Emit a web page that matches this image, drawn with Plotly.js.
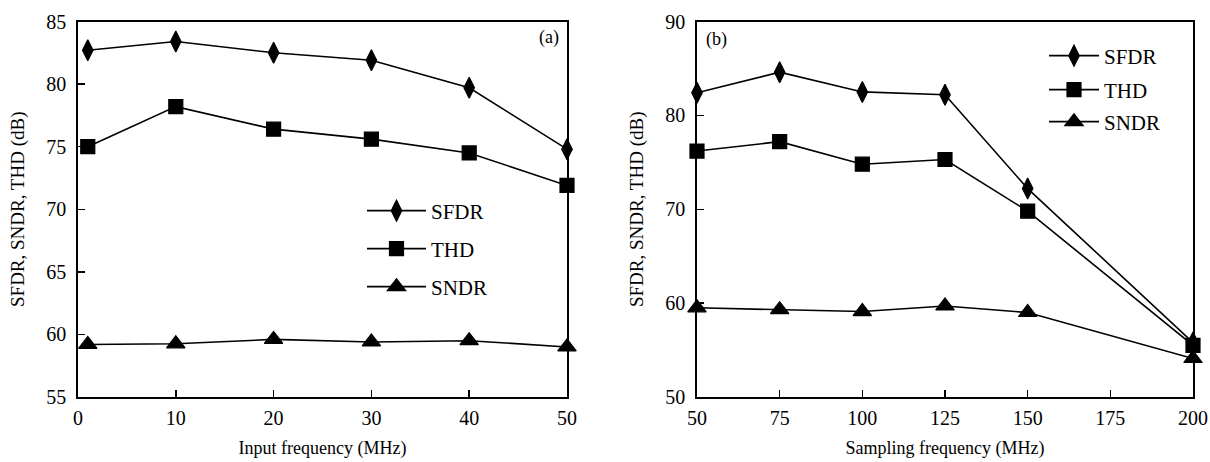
<!DOCTYPE html>
<html><head><meta charset="utf-8">
<script src="https://cdn.plot.ly/plotly-3.0.1.min.js"></script>
<style>body{margin:0;background:#fff}#c{width:1210px;height:462px}</style>
</head><body><div id="c"></div>
<script>
// Panel (a): input frequency sweep
const inputFreq = [1, 10, 20, 30, 40, 50];
const sfdrA = [82.7, 83.4, 82.5, 81.9, 79.7, 74.8];
const thdA  = [75.0, 78.2, 76.4, 75.6, 74.5, 71.9];
const sndrA = [59.2, 59.25, 59.6, 59.4, 59.5, 59.0];
// Panel (b): sampling frequency sweep
const sampFreq = [50, 75, 100, 125, 150, 200];
const sfdrB = [82.4, 84.6, 82.5, 82.2, 72.2, 55.8];
const thdB  = [76.2, 77.2, 74.8, 75.3, 69.8, 55.5];
const sndrB = [59.5, 59.3, 59.1, 59.7, 59.0, 54.1];
const seriesNames = ['SFDR', 'THD', 'SNDR'];
const ticksA = [0, 10, 20, 30, 40, 50];
const ticksB = [50, 75, 100, 125, 150, 175, 200];

const F = 'Liberation Serif, Times New Roman, serif';
const syms = ['diamond-tall', 'square', 'triangle-up'];
const sizes = [15, 14, 16];
function tr(x, y, i, ax, lg) {
  return {x, y, name: seriesNames[i], type: 'scatter', mode: 'lines+markers',
    xaxis: ax[0], yaxis: ax[1], legend: lg, cliponaxis: false,
    line: {color: '#000', width: 1.6},
    marker: {symbol: syms[i], size: sizes[i], color: '#000', line: {color: '#000', width: 1.2}}};
}
const data = [
  tr(inputFreq, sfdrA, 0, ['x','y'], 'legend'),
  tr(inputFreq, thdA, 1, ['x','y'], 'legend2'),
  tr(inputFreq, sndrA, 2, ['x','y'], 'legend3'),
  tr(sampFreq, sfdrB, 0, ['x2','y2'], 'legend4'),
  tr(sampFreq, thdB, 1, ['x2','y2'], 'legend5'),
  tr(sampFreq, sndrB, 2, ['x2','y2'], 'legend6'),
];
const W = 1210, H = 462;
const px = v => v / W, py = v => 1 - v / H;
function xax(dom, range, ticks, title, anchor) {
  return {domain: dom, range, tickvals: ticks, ticktext: ticks.map(String),
    ticks: 'inside', ticklen: 7, tickwidth: 1.5, tickcolor: '#000',
    showline: true, linewidth: 1.8, linecolor: '#000', mirror: true,
    showgrid: false, zeroline: false, anchor, automargin: false,
    ticklabeloverflow: 'allow', ticklabelstandoff: 2,
    tickfont: {family: F, size: 20, color: '#000'},
    title: {text: title, font: {family: F, size: 18, color: '#000'}, standoff: 14}};
}
function yax(range, dtick, anchor) {
  return {domain: [1 - 397/H, 1 - 21.5/H], range, dtick, tick0: 0,
    ticks: 'inside', ticklen: 7, tickwidth: 1.5, tickcolor: '#000',
    showline: true, linewidth: 1.8, linecolor: '#000', mirror: true,
    showgrid: false, zeroline: false, anchor, automargin: false,
    ticklabelstandoff: 6,
    tickfont: {family: F, size: 20, color: '#000'},
    title: {text: 'SFDR, SNDR, THD (dB)', font: {family: F, size: 19, color: '#000'}, standoff: 16}};
}
function lg(xc, yc, iw) {
  return {x: px(xc), y: py(yc), xanchor: 'left', yanchor: 'middle', itemwidth: iw,
    bgcolor: 'rgba(0,0,0,0)', borderwidth: 0,
    font: {family: F, size: 21, color: '#000'}};
}
const layout = {
  width: W, height: H, paper_bgcolor: '#fff', plot_bgcolor: '#fff',
  margin: {l: 0, r: 0, t: 0, b: 0}, showlegend: true,
  xaxis: xax([px(78), px(567)], [0, 50], ticksA, 'Input frequency (MHz)', 'y'),
  yaxis: yax([55, 85], 5, 'x'),
  xaxis2: xax([px(697), px(1193)], [50, 200], ticksB, 'Sampling frequency (MHz)', 'y2'),
  yaxis2: yax([50, 90], 10, 'x2'),
  legend: lg(362, 211, 59), legend2: lg(362, 249, 59), legend3: lg(362, 287, 59),
  legend4: lg(1044, 56, 50), legend5: lg(1044, 90, 50), legend6: lg(1044, 122, 50),
  annotations: [
    {xref: 'paper', yref: 'paper', x: px(561), y: py(38), xanchor: 'right', yanchor: 'middle',
     text: '(a)', showarrow: false, font: {family: F, size: 18, color: '#000'}},
    {xref: 'paper', yref: 'paper', x: px(704), y: py(40), xanchor: 'left', yanchor: 'middle',
     text: '(b)', showarrow: false, font: {family: F, size: 18, color: '#000'}}
  ]
};
Plotly.newPlot('c', data, layout, {displayModeBar: false, staticPlot: true});
</script></body></html>
